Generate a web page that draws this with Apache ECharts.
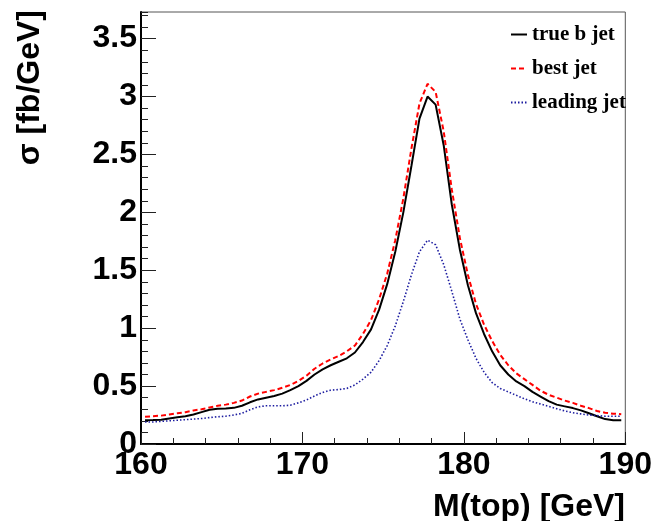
<!DOCTYPE html>
<html>
<head>
<meta charset="utf-8">
<script src="https://cdn.jsdelivr.net/npm/echarts@6/dist/echarts.min.js"></script>
<style>html,body{margin:0;padding:0;background:#fff;}#c{width:655px;height:521px;}</style>
</head>
<body>
<div id="c"></div>
<script>
// bin centres of the M(top) histogram, 0.5 GeV bins from 160 to 190
const massBins = [];
for (let i = 0; i < 60; i++) massBins.push(160.25 + i * 0.5);

const trueBJet = [
  0.205,0.207,0.21,0.22,0.23,0.24,0.255,0.275,0.295,0.305,
  0.307,0.312,0.33,0.36,0.385,0.40,0.415,0.435,0.465,0.50,
  0.545,0.60,0.645,0.68,0.71,0.74,0.79,0.88,0.99,1.16,
  1.38,1.66,2.0,2.4,2.81,3.0,2.93,2.58,2.07,1.68,
  1.37,1.13,0.95,0.80,0.68,0.60,0.54,0.50,0.45,0.41,
  0.37,0.34,0.325,0.31,0.29,0.265,0.24,0.215,0.205,0.205
];
const bestJet = [
  0.235,0.24,0.245,0.255,0.265,0.275,0.29,0.30,0.315,0.33,
  0.34,0.355,0.375,0.41,0.435,0.45,0.465,0.485,0.51,0.545,
  0.59,0.65,0.695,0.73,0.76,0.80,0.85,0.95,1.07,1.25,
  1.47,1.76,2.12,2.55,2.94,3.11,3.04,2.70,2.20,1.78,
  1.46,1.21,1.03,0.89,0.77,0.68,0.61,0.56,0.51,0.46,
  0.425,0.40,0.375,0.355,0.33,0.31,0.285,0.27,0.262,0.257
];
const leadingJet = [
  0.19,0.19,0.195,0.20,0.205,0.21,0.215,0.22,0.228,0.235,
  0.24,0.25,0.265,0.295,0.32,0.33,0.33,0.33,0.335,0.355,
  0.38,0.415,0.445,0.465,0.47,0.48,0.51,0.56,0.62,0.72,
  0.85,1.02,1.23,1.46,1.66,1.76,1.72,1.55,1.32,1.08,
  0.90,0.74,0.62,0.53,0.48,0.45,0.42,0.39,0.365,0.345,
  0.325,0.305,0.285,0.27,0.26,0.25,0.245,0.24,0.24,0.24
];
const seriesNames = ['true b jet', 'best jet', 'leading jet'];
const xTitle = 'M(top) [GeV]';
const yTitle = 'σ [fb/GeV]';

const pairs = vals => massBins.map((m, i) => [m, vals[i]]);
const tickFont = {fontFamily: 'Liberation Sans', fontWeight: 'bold', fontSize: 32, color: '#000'};

const chart = echarts.init(document.getElementById('c'), null, {renderer: 'canvas'});
chart.setOption({
  animation: false,
  backgroundColor: '#fff',
  grid: {left: 141, right: 29, top: 12, bottom: 77, show: true, borderColor: '#555', borderWidth: 1, backgroundColor: 'transparent'},
  xAxis: {
    type: 'value', min: 160, max: 190, interval: 10,
    axisLine: {show: true, lineStyle: {color: '#000', width: 2}},
    axisTick: {show: true, inside: true, length: 12, lineStyle: {color: '#222', width: 1}},
    minorTick: {show: true, splitNumber: 5, length: 6, lineStyle: {color: '#222', width: 1}},
    splitLine: {show: false}, minorSplitLine: {show: false},
    axisLabel: Object.assign({margin: 5}, tickFont)
  },
  yAxis: [{
    type: 'value', min: 0, max: 3.73, interval: 0.5, position: 'left',
    axisLine: {show: true, lineStyle: {color: '#000', width: 2}},
    axisTick: {show: true, inside: true, length: 15, lineStyle: {color: '#222', width: 1}},
    splitLine: {show: false},
    axisLabel: Object.assign({margin: 4, showMaxLabel: false,
      formatter: v => (Math.abs(v * 2 - Math.round(v * 2)) < 1e-6 ? String(+v.toFixed(1)) : '')}, tickFont)
  }, {
    type: 'value', min: 0, max: 3.73, interval: 0.1, position: 'left', offset: 0,
    axisLine: {show: false},
    axisTick: {show: true, inside: true, length: 7, lineStyle: {color: '#222', width: 1}},
    splitLine: {show: false},
    axisLabel: {show: false}
  }],
  legend: {
    orient: 'vertical', left: 505, top: 19, itemWidth: 16, itemHeight: 10, itemGap: 13,
    data: seriesNames,
    itemStyle: {opacity: 0},
    textStyle: {fontFamily: 'Liberation Serif', fontWeight: 'bold', fontSize: 21, color: '#000'}
  },
  series: [
    {name: seriesNames[0], type: 'line', data: pairs(trueBJet), showSymbol: false, symbol: 'none',
      lineStyle: {color: '#000', width: 2, type: 'solid'}, itemStyle: {color: '#000'}},
    {name: seriesNames[1], type: 'line', data: pairs(bestJet), showSymbol: false, symbol: 'none',
      lineStyle: {color: '#ff0000', width: 2, type: [5, 3]}, itemStyle: {color: '#ff0000'}},
    {name: seriesNames[2], type: 'line', data: pairs(leadingJet), showSymbol: false, symbol: 'none',
      lineStyle: {color: '#1c1ca0', width: 1.6, type: [1.5, 2]}, itemStyle: {color: '#1c1ca0'}}
  ],
  graphic: [
    {type: 'text', right: 30, top: 491, style: {text: xTitle, font: 'bold 32px "Liberation Sans"', fill: '#000'}},
    {type: 'text', x: 30, y: 10, rotation: Math.PI / 2,
      style: {text: yTitle, font: 'bold 32px "Liberation Sans"', fill: '#000', align: 'right', verticalAlign: 'middle'}}
  ]
});
</script>
</body>
</html>
